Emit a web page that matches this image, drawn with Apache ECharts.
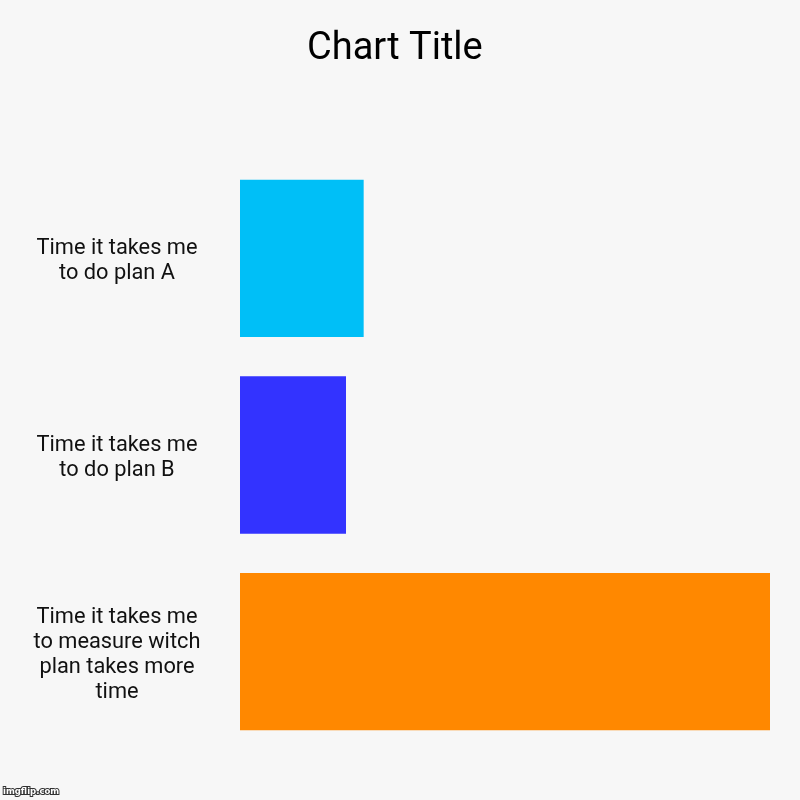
<!DOCTYPE html>
<html><head><meta charset="utf-8">
<script src="https://cdn.jsdelivr.net/npm/echarts@6/dist/echarts.min.js"></script>
<style>html,body{margin:0;padding:0;background:#f7f7f7}#c{width:800px;height:800px}</style>
</head><body><div id="c"></div>
<script>
const categories = [
  "Time it takes me\nto do plan A",
  "Time it takes me\nto do plan B",
  "Time it takes me\nto measure witch\nplan takes more\ntime"
];
const values = [7, 6, 30];
const colors = ["#00bff7", "#3333ff", "#ff8800"];

const chart = echarts.init(document.getElementById('c'));
chart.setOption({
  backgroundColor: '#f7f7f7',
  animation: false,
  title: {
    text: 'Chart Title', left: 302, top: 25,
    textStyle: {fontFamily: 'Roboto', fontSize: 38, fontWeight: 'normal', color: '#000'}
  },
  grid: {left: 240, right: 30, top: 160, bottom: 50, containLabel: false},
  xAxis: {type: 'value', min: 0, max: 30, show: false},
  yAxis: {
    type: 'category', inverse: true, data: categories,
    axisLine: {show: false}, axisTick: {show: false}, splitLine: {show: false},
    axisLabel: {
      margin: 123, align: 'center', fontFamily: 'Roboto', fontSize: 21.8,
      lineHeight: 25, color: '#111',
      formatter: v => '{s|}\n' + v.split('\n').map(l => '{t|' + l + '}').join('\n'),
      rich: {
        s: {lineHeight: 6, fontSize: 1},
        t: {fontFamily: 'Roboto', fontSize: 21.8, lineHeight: 25, color: '#111', align: 'center'}
      }
    }
  },
  series: [{
    type: 'bar', barCategoryGap: '20%',
    data: values.map((v, i) => ({value: v, itemStyle: {color: colors[i]}}))
  }],
  graphic: [{
    type: 'text', left: 2, bottom: 3,
    style: {text: 'imgflip.com', fontFamily: 'DejaVu Sans', fontSize: 8.5, fontWeight: 'bold',
      fill: '#fff', stroke: '#333', lineWidth: 2}
  }]
});
</script></body></html>
